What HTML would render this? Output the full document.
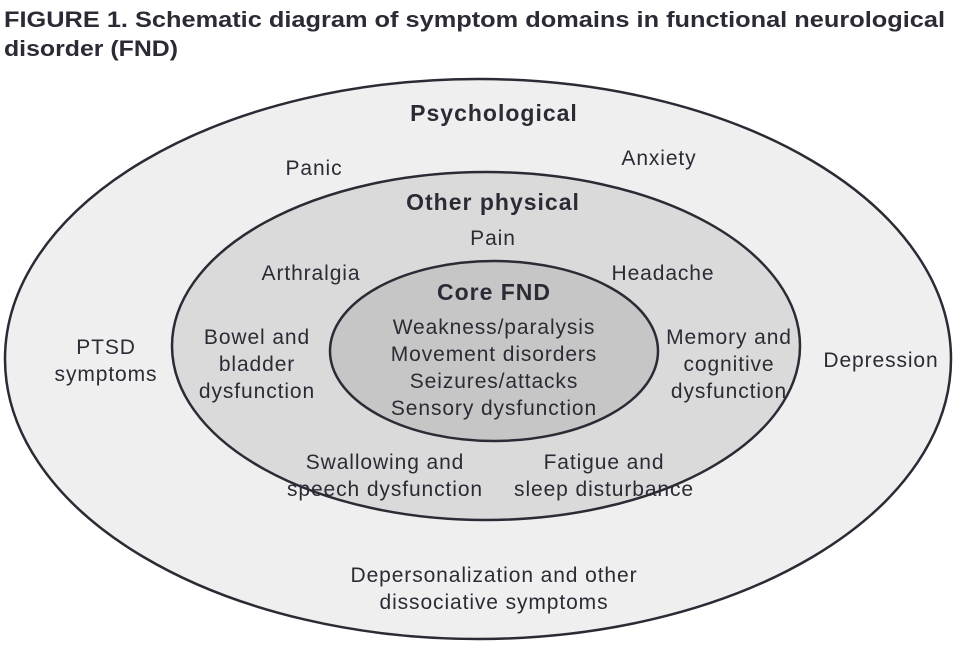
<!DOCTYPE html>
<html><head><style>
body{margin:0;background:#fff;}
svg text{font-family:"Liberation Sans",sans-serif;fill:#2b2b35;}
</style></head><body>
<svg width="956" height="643" viewBox="0 0 956 643" xmlns="http://www.w3.org/2000/svg">
<text x="4" y="27" font-size="22" font-weight="bold" fill="#222" textLength="941" lengthAdjust="spacingAndGlyphs">FIGURE 1. Schematic diagram of symptom domains in functional neurological</text>
<text x="4" y="56" font-size="22" font-weight="bold" fill="#222" textLength="174" lengthAdjust="spacingAndGlyphs">disorder (FND)</text>
<ellipse cx="478" cy="359" rx="473" ry="280" fill="#efefef" stroke="#2b2b35" stroke-width="2.5"/>
<ellipse cx="486" cy="346" rx="314" ry="174" fill="#dadada" stroke="#2b2b35" stroke-width="2.5"/>
<ellipse cx="494" cy="351" rx="164" ry="90" fill="#c6c6c6" stroke="#2b2b35" stroke-width="2.5"/>
<g font-size="21" text-anchor="middle" letter-spacing="0.9">
<text x="494" y="121" font-size="23" font-weight="bold" letter-spacing="1">Psychological</text>
<text x="314" y="175">Panic</text>
<text x="659" y="165">Anxiety</text>
<text x="493" y="210" font-size="23" font-weight="bold" letter-spacing="1">Other physical</text>
<text x="493" y="245">Pain</text>
<text x="311" y="280">Arthralgia</text>
<text x="663" y="280">Headache</text>
<text x="494" y="300" font-size="23" font-weight="bold" letter-spacing="1">Core FND</text>
<text x="494" y="334">Weakness/paralysis</text>
<text x="494" y="361">Movement disorders</text>
<text x="494" y="388">Seizures/attacks</text>
<text x="494" y="415">Sensory dysfunction</text>
<text x="257" y="344">Bowel and</text>
<text x="257" y="371">bladder</text>
<text x="257" y="398">dysfunction</text>
<text x="729" y="344">Memory and</text>
<text x="729" y="371">cognitive</text>
<text x="729" y="398">dysfunction</text>
<text x="106" y="354">PTSD</text>
<text x="106" y="381">symptoms</text>
<text x="881" y="367">Depression</text>
<text x="385" y="469">Swallowing and</text>
<text x="385" y="496">speech dysfunction</text>
<text x="604" y="469">Fatigue and</text>
<text x="604" y="496">sleep disturbance</text>
<text x="494" y="582">Depersonalization and other</text>
<text x="494" y="609">dissociative symptoms</text>
</g>
</svg>
</body></html>
